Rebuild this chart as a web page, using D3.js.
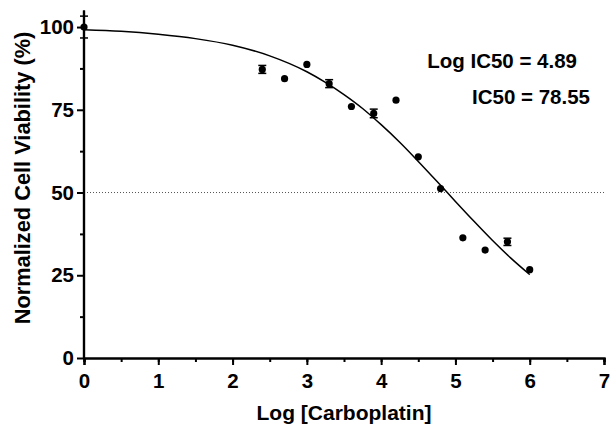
<!DOCTYPE html>
<html><head><meta charset="utf-8">
<script src="https://cdn.jsdelivr.net/npm/d3@7"></script>
<style>body{margin:0;background:#fff}svg{display:block}</style>
</head><body>
<svg id="c" width="611" height="427"></svg>
<script>
// Data
const logDose   = [0, 2.4, 2.7, 3.0, 3.3, 3.6, 3.9, 4.2, 4.5, 4.8, 5.1, 5.4, 5.7, 6.0];
const viability = [100, 87.2, 84.4, 88.7, 82.9, 76.0, 73.9, 77.9, 60.8, 51.2, 36.3, 32.6, 35.1, 26.7];
const errorSD   = [3.3, 1.2, 0, 0, 1.2, 0, 1.3, 0, 0, 0, 0, 0, 1.1, 0];
// Fitted curve points
const curveX = [0, 0.5, 1, 1.5, 2, 2.5, 3, 3.25, 3.5, 3.75, 4, 4.25, 4.5, 4.75, 5, 5.25, 5.5, 5.75, 6];
const curveY = [99.2, 98.7, 97.8, 96.5, 94.5, 91.3, 86.5, 83.3, 79.6, 75.4, 70.5, 65.2, 59.4, 53.4, 47.3, 41.3, 35.5, 30.1, 25.2];
const xTicks = [0, 1, 2, 3, 4, 5, 6, 7];
const yTicks = [0, 25, 50, 75, 100];
const annotations = ["Log IC50 = 4.89", "IC50 = 78.55"];
const xTitle = "Log [Carboplatin]";
const yTitle = "Normalized Cell Viability (%)";

const svg = d3.select("#c");
const font = "'Liberation Sans', Arial, sans-serif";
const x = d3.scaleLinear().domain([0, 7]).range([84, 604]);
const y = d3.scaleLinear().domain([0, 105]).range([358, 10.5]);

// dotted 50% line
svg.append("line").attr("x1", x(0)).attr("x2", x(7)).attr("y1", y(50)).attr("y2", y(50))
  .attr("stroke", "#555").attr("stroke-width", 1).attr("stroke-dasharray", "1,2");

// X axis
const gx = svg.append("g").attr("transform", `translate(0,${y(0)})`);
gx.call(d3.axisBottom(x).tickValues(d3.range(0, 7.01, 0.5)).tickSize(4).tickFormat(""));
const gx2 = svg.append("g").attr("transform", `translate(0,${y(0)})`);
gx2.call(d3.axisBottom(x).tickValues(xTicks).tickSize(7).tickPadding(8).tickFormat(d3.format("d")));
[gx, gx2].forEach(g => { g.select(".domain").attr("stroke-width", 2.2); g.selectAll(".tick line").attr("stroke-width", 2); });
gx2.selectAll("text").attr("font-family", font).attr("font-weight", "bold").attr("font-size", 20.5).attr("fill", "#000");

// Y axis
const gy = svg.append("g").attr("transform", `translate(${x(0)},0)`);
gy.call(d3.axisLeft(y).tickValues([12.5, 37.5, 62.5, 87.5]).tickSize(4).tickFormat(""));
const gy2 = svg.append("g").attr("transform", `translate(${x(0)},0)`);
gy2.call(d3.axisLeft(y).tickValues(yTicks).tickSize(7).tickPadding(3).tickFormat(d3.format("d")));
[gy, gy2].forEach(g => { g.select(".domain").attr("stroke-width", 2.2).attr("d", `M0,${y(105)}V${y(0)}`); g.selectAll(".tick line").attr("stroke-width", 2); });
gy2.selectAll("text").attr("font-family", font).attr("font-weight", "bold").attr("font-size", 20.5).attr("fill", "#000");

// fitted curve
const line = d3.line().x(d => x(d[0])).y(d => y(d[1])).curve(d3.curveMonotoneX);
svg.append("path").datum(curveX.map((v, i) => [v, curveY[i]]))
  .attr("d", line).attr("fill", "none").attr("stroke", "#000").attr("stroke-width", 1.5);

// error bars
const pts = logDose.map((v, i) => ({x: v, y: viability[i], e: errorSD[i]}));
const eb = svg.append("g").selectAll("g").data(pts.filter(d => d.e > 0)).join("g");
eb.append("line").attr("x1", d => x(d.x)).attr("x2", d => x(d.x))
  .attr("y1", d => y(d.y + d.e)).attr("y2", d => y(d.y - d.e)).attr("stroke", "#000").attr("stroke-width", 1.5);
[1, -1].forEach(s => eb.append("line").attr("x1", d => x(d.x) - 4).attr("x2", d => x(d.x) + 4)
  .attr("y1", d => y(d.y + s * d.e)).attr("y2", d => y(d.y + s * d.e)).attr("stroke", "#000").attr("stroke-width", 1.5));

// points
svg.append("g").selectAll("circle").data(pts).join("circle")
  .attr("cx", d => x(d.x)).attr("cy", d => y(d.y)).attr("r", 3.6).attr("fill", "#000");

// annotations
svg.append("text").attr("x", 577).attr("y", 68).attr("text-anchor", "end").text(annotations[0])
  .attr("font-family", font).attr("font-weight", "bold").attr("font-size", 20.5).attr("fill", "#000");
svg.append("text").attr("x", 590).attr("y", 104).attr("text-anchor", "end").text(annotations[1])
  .attr("font-family", font).attr("font-weight", "bold").attr("font-size", 20.5).attr("fill", "#000");

// axis titles
svg.append("text").attr("x", x(3.5)).attr("y", 420).attr("text-anchor", "middle").text(xTitle)
  .attr("font-family", font).attr("font-weight", "bold").attr("font-size", 21).attr("fill", "#000");
svg.append("text").attr("transform", `translate(29.5,178) rotate(-90)`).attr("text-anchor", "middle").text(yTitle)
  .attr("font-family", font).attr("font-weight", "bold").attr("font-size", 21.8).attr("fill", "#000");
</script>
</body></html>
